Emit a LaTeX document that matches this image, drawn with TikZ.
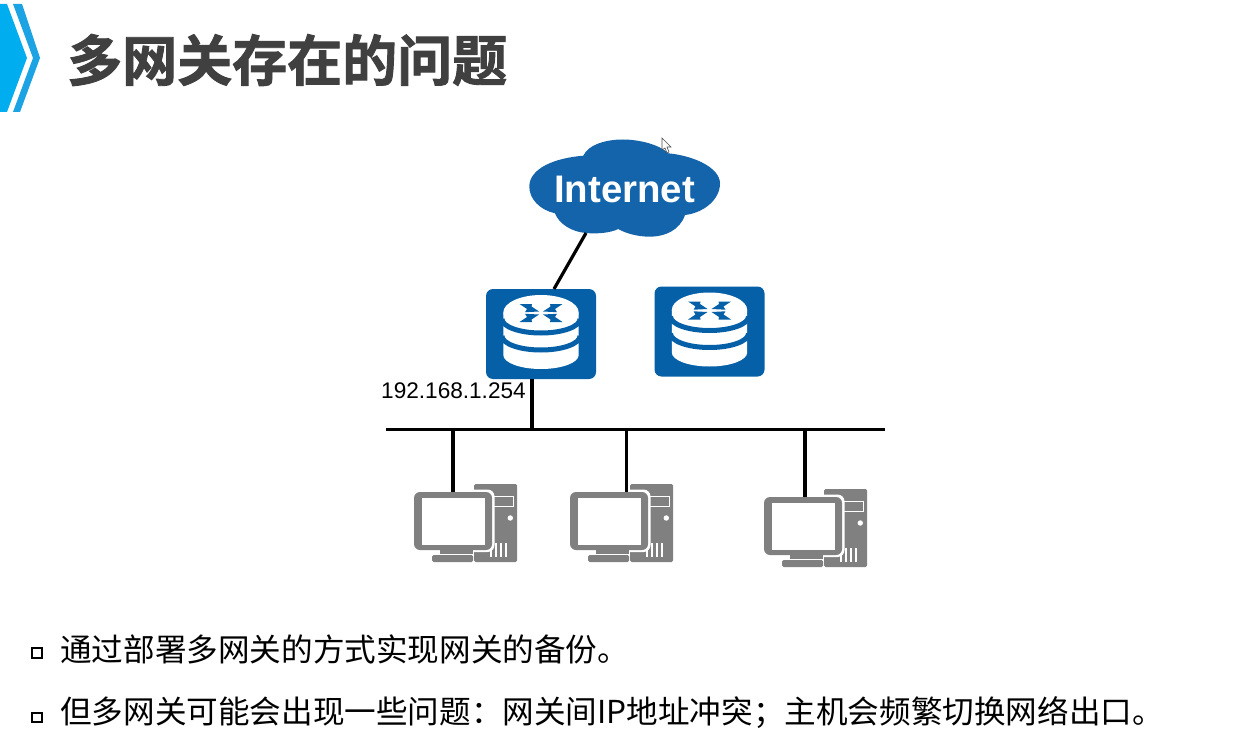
\documentclass[tikz,border=0pt]{standalone}
\usepackage{fontspec}
\setmainfont{Liberation Sans}
\newfontfamily\cjk{Noto Sans CJK SC}
\newfontfamily\cjkbold[FakeBold=1.6]{Noto Sans CJK SC Bold}
\definecolor{routerblue}{HTML}{0560A8}
\definecolor{cloudblue}{HTML}{1464AC}
\definecolor{pcgrey}{HTML}{808080}
\definecolor{titlegrey}{HTML}{404040}
\definecolor{chevron}{HTML}{00AEEF}
\definecolor{chevronline}{HTML}{1CA3E4}
\tikzset{
  x=1pt,y=-1pt,
  wire/.style={line width=3.2pt,black},
  routerbox/.style={draw=none,fill=routerblue,rounded corners=7pt,minimum width=110pt,minimum height=90pt,inner sep=0pt},
  routerglyph/.pic={
    \fill[white] (-37.7,-21.5) -- (-37.7,21) arc[start angle=180,end angle=0,x radius=37.7,y radius=14] -- (37.7,-21.5) -- cycle;
    \draw[routerblue,line width=5pt] (-39,-15) arc[start angle=180,end angle=0,x radius=39,y radius=14];
    \draw[routerblue,line width=5pt] (-39,2) arc[start angle=180,end angle=0,x radius=39,y radius=14];
    \fill[white] (0,-21.5) ellipse[x radius=37.7,y radius=17.5];
    \foreach \sx/\sy in {1/1,-1/1,1/-1,-1/-1}{
      \fill[routerblue,shift={(0,-21)},xscale=\sx,yscale=\sy] (2,1.5) -- (16,0.8) -- (14,4) -- (21.5,9) -- (9,9) -- (9.5,6.5) -- cycle;
    }
  },
  pcglyph/.pic={
    % tower
    \fill[pcgrey,rounded corners=1.5pt] (18,-39) rectangle (61,39);
    \fill[white] (37,-27) rectangle (58,-16);
    \fill[pcgrey] (38,-26) rectangle (57,-17);
    \fill[white] (54.3,-5) circle[radius=2.7];
    \foreach \gx in {34,39,44,49}{\fill[white] (\gx,20) rectangle (\gx+1.6,34);}
    % monitor
    \fill[white,rounded corners=7pt] (-44.5,-33.5) rectangle (38.5,29);
    \fill[pcgrey,rounded corners=6pt] (-42,-31) rectangle (36,27);
    \fill[white] (-34.3,-25) rectangle (29,22);
    \fill[pcgrey] (-16,27) rectangle (17,31);
    \fill[pcgrey,rounded corners=1.5pt] (-24,32) rectangle (17,39);
  },
  bulletbox/.style={draw=black,line width=2pt,minimum size=9.5pt,inner sep=0pt},
  bodytext/.style={anchor=west,inner sep=0pt,font=\fontsize{31.6}{34}\selectfont\cjk,text=black},
}
\begin{document}
\begin{tikzpicture}
\useasboundingbox (0,0) rectangle (1234,749);
\fill[white] (0,0) rectangle (1234,749);

% heading marker
\fill[chevron] (0,4) -- (7,4) -- (27,58) -- (7,112) -- (0,112) -- cycle;
\fill[chevronline] (13,4) -- (22,4) -- (40,58) -- (20,112) -- (13,112) -- (33,58) -- cycle;
\node[anchor=west,inner sep=0pt,text=titlegrey,font=\fontsize{55}{60}\selectfont\cjkbold] (title) at (67,60) {多网关存在的问题};

% cloud
\fill[cloudblue] (529.3,186)
  .. controls (530,168) and (555,158) .. (583.3,155.7)
  .. controls (588,145) and (605,139.5) .. (623,139.5)
  .. controls (640,139.5) and (660,145) .. (668.3,153.3)
  .. controls (695,156) and (720,168) .. (720,183.5)
  .. controls (720,200) and (703,213) .. (685,215)
  .. controls (680,230) and (665,236.7) .. (650,236.7)
  .. controls (637,236.7) and (625,233) .. (618.3,229)
  .. controls (610,233) and (597,234) .. (586,233)
  .. controls (572,232) and (559,224) .. (555,213.3)
  .. controls (540,210) and (529,199) .. (529.3,186) -- cycle;
\node[inner sep=0pt,text=white,font=\bfseries\fontsize{38.4}{42}\selectfont] (internet) at (624.5,189) {Internet};
\coordinate (cloudfoot) at (586,233);

% gateways
\node[routerbox] (gwa) at (541,334) {};
\pic at (541,334) {routerglyph};
\node[routerbox] (gwb) at (709.5,331.5) {};
\pic at (709.5,331.5) {routerglyph};

% shared segment
\coordinate (busw) at (386,429.5);
\coordinate (buse) at (885,429.5);
\coordinate (tapa) at (532,429.5);
\coordinate (hosta) at (453,429.5);
\coordinate (hostb) at (626.5,429.5);
\coordinate (hostc) at (805,429.5);
\coordinate (gwaroof) at (554,289);
\draw[wire] (busw) -- (buse);
\draw[wire] (cloudfoot) -- (gwaroof);
\draw[wire] (gwa.south -| tapa) -- (tapa);
\node[anchor=west,inner sep=0pt,font=\fontsize{22.6}{26}\selectfont] (addr) at (381,391) {192.168.1.254};

% hosts
\pic at (456,523) {pcglyph};
\pic at (612,523) {pcglyph};
\pic at (806,528) {pcglyph};
\coordinate (pca) at (453,492);
\coordinate (pcb) at (626.5,492);
\coordinate (pcc) at (805,497);
\draw[wire] (hosta) -- (pca);
\draw[wire] (hostb) -- (pcb);
\draw[wire] (hostc) -- (pcc);

% mouse pointer
\draw[black!70,fill=white,line width=0.6pt] (662,138) -- (662,150) -- (665,148) -- (667,153) -- (669,152) -- (667,147) -- (671,147) -- cycle;

% notes
\node[bulletbox] (mka) at (37,653) {};
\node[bodytext] (nta) at (60,649) {通过部署多网关的方式实现网关的备份。};
\node[bulletbox] (mkb) at (37,717.3) {};
\node[bodytext] (ntb) at (60,713) {但多网关可能会出现一些问题：网关间IP地址冲突；主机会频繁切换网络出口。};
\end{tikzpicture}
\end{document}
